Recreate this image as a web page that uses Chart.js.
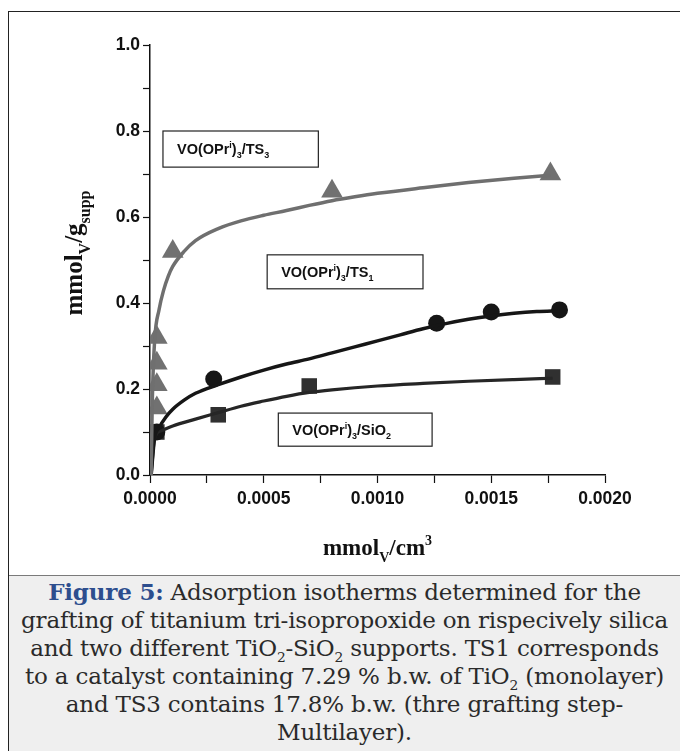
<!DOCTYPE html>
<html>
<head>
<meta charset="utf-8">
<script src="https://cdn.jsdelivr.net/npm/chart.js@4.4.1/dist/chart.umd.min.js"></script>
<style>
  body { margin:0; background:#fff; width:680px; height:751px; overflow:hidden; position:relative; }
  .frame { position:absolute; left:8px; top:11px; width:700px; height:760px; border:1.5px solid #222; box-sizing:border-box; }
  .plot { position:absolute; left:0; top:0; width:680px; height:575px; }
  .caption { position:absolute; left:9px; top:575px; width:680px; height:180px; background:#efefef; border-top:1.5px solid #7a7a7a;
    font-family:"DejaVu Serif", serif; font-size:23px; line-height:28px; color:#2a2a2a; padding-top:2px; box-sizing:border-box; letter-spacing:-0.2px; }
  .caption div { white-space:nowrap; text-align:center; width:671px; }
  .caption b { color:#2d4e8e; }
  .caption sub { font-size:0.6em; line-height:0; }
</style>
</head>
<body>
<div class="frame"></div>
<div class="plot"><canvas id="myChart"></canvas></div>
<div class="caption">
  <div><b>Figure 5:</b> Adsorption isotherms determined for the</div>
  <div>grafting of titanium tri-isopropoxide on rispecively silica</div>
  <div>and two different TiO<sub>2</sub>-SiO<sub>2</sub> supports. TS1 corresponds</div>
  <div>to a catalyst containing 7.29 % b.w. of TiO<sub>2</sub> (monolayer)</div>
  <div>and TS3 contains 17.8% b.w. (thre grafting step-</div>
  <div>Multilayer).</div>
</div>
<script>
// measured points (mmol_V/cm3 , mmol_V/g_supp)
let ts3X = [0.00003, 0.00003, 0.00003, 0.00003, 0.0001, 0.0008, 0.00176];
let ts3Y = [0.32, 0.26, 0.21, 0.156, 0.52, 0.66, 0.70];

let ts1X = [0.00003, 0.00028, 0.00126, 0.0015, 0.0018];
let ts1Y = [0.10, 0.223, 0.353, 0.379, 0.384];

let sioX = [0.00003, 0.0003, 0.0007, 0.00177];
let sioY = [0.10, 0.14, 0.207, 0.228];

// fitted curves
let ts3FitX = [0.000005, 0.00001, 0.00002, 0.00004, 0.00006, 0.00008, 0.0001, 0.00015, 0.0002, 0.0003, 0.0004, 0.0005, 0.0006, 0.0007, 0.0008, 0.0009, 0.001, 0.0012, 0.0014, 0.0016, 0.00176];
let ts3FitY = [0.0, 0.17, 0.31, 0.385, 0.43, 0.462, 0.485, 0.52, 0.545, 0.573, 0.591, 0.604, 0.615, 0.627, 0.638, 0.647, 0.655, 0.668, 0.68, 0.69, 0.697];

let ts1FitX = [0.000005, 0.00002, 0.00004, 0.00007, 0.0001, 0.00015, 0.0002, 0.0003, 0.0004, 0.0005, 0.0006, 0.0007, 0.0008, 0.0009, 0.001, 0.0011, 0.0012, 0.0013, 0.0014, 0.0015, 0.0016, 0.0017, 0.0018];
let ts1FitY = [0.0, 0.085, 0.11, 0.135, 0.153, 0.174, 0.19, 0.21, 0.228, 0.244, 0.258, 0.27, 0.284, 0.298, 0.312, 0.326, 0.34, 0.352, 0.362, 0.37, 0.376, 0.38, 0.382];

let sioFitX = [0.000005, 0.00002, 0.00005, 0.0001, 0.0002, 0.0003, 0.0004, 0.0005, 0.0006, 0.0007, 0.0008, 0.001, 0.0012, 0.0014, 0.0016, 0.00177];
let sioFitY = [0.0, 0.085, 0.103, 0.114, 0.13, 0.145, 0.16, 0.172, 0.183, 0.192, 0.198, 0.207, 0.213, 0.218, 0.222, 0.225];

// label boxes in data units
let notes = [
  { x0:0.000057, x1:0.00074, y0:0.80, y1:0.716, segs:[['VO(OPr'],['i','sup'],[')'],['3','sub'],['/TS'],['3','sub']] },
  { x0:0.000515, x1:0.0012, y0:0.512, y1:0.433, segs:[['VO(OPr'],['i','sup'],[')'],['3','sub'],['/TS'],['1','sub']] },
  { x0:0.000564, x1:0.00124, y0:0.144, y1:0.067, segs:[['VO(OPr'],['i','sup'],[')'],['3','sub'],['/SiO'],['2','sub']] }
];

function pts(xs, ys){
  return xs.map((x, i) => ({x:x, y:ys[i]}));
}

// draws text pieces with sub / superscripts, returns width
function richText(ctx, segs, x, y, size, fam, weight, doDraw){
  let w = 0;
  segs.forEach(s => {
    let small = s[1] ? Math.round(size*0.62) : size;
    ctx.font = weight + ' ' + small + 'px ' + fam;
    let dy = 0;
    if (s[1] == 'sub') dy = size*0.3;
    if (s[1] == 'sup') dy = -size*0.42;
    if (doDraw) ctx.fillText(s[0], x + w, y + dy);
    w += ctx.measureText(s[0]).width;
  });
  return w;
}

let textPlugin = {
  id:'textPlugin',
  afterDraw(chart){
    let ctx = chart.ctx;
    let xs = chart.scales.x, ys = chart.scales.y;
    ctx.save();
    ctx.textBaseline = 'alphabetic';
    ctx.textAlign = 'left';
    ctx.fillStyle = '#111';

    // label boxes
    notes.forEach(n => {
      let l = xs.getPixelForValue(n.x0), r = xs.getPixelForValue(n.x1);
      let t = ys.getPixelForValue(n.y0), b = ys.getPixelForValue(n.y1);
      ctx.fillStyle = '#fff';
      ctx.fillRect(l, t, r-l, b-t);
      ctx.strokeStyle = '#222';
      ctx.lineWidth = 1.2;
      ctx.strokeRect(l, t, r-l, b-t);
      ctx.fillStyle = '#111';
      richText(ctx, n.segs, l + 14, (t+b)/2 + 5, 14.5, '"Liberation Sans", Arial', 'bold', true);
    });

    // x title
    let xt = [['mmol'],['V','sub'],['/cm'],['3','sup']];
    let serif = '"Liberation Serif", "Times New Roman", serif';
    let w = richText(ctx, xt, 0, 0, 23, serif, 'bold', false);
    let cx = (chart.chartArea.left + chart.chartArea.right)/2;
    richText(ctx, xt, cx - w/2, 555, 23, serif, 'bold', true);

    // y title, rotated
    let yt = [['mmol'],['V','sub'],['/g'],['supp','sub']];
    w = richText(ctx, yt, 0, 0, 25, serif, 'bold', false);
    ctx.translate(82, 253);
    ctx.rotate(-Math.PI/2);
    richText(ctx, yt, -w/2, 0, 25, serif, 'bold', true);
    ctx.restore();
  }
};

let tickFont = { family:'"Liberation Sans", Arial', size:17.5, weight:'bold' };

let ctx = document.getElementById('myChart').getContext('2d');
let chart = new Chart(ctx, {
  type:'scatter',
  data:{
    datasets:[
      { label:'TS3 fit', data:pts(ts3FitX, ts3FitY), showLine:true, pointRadius:0, borderColor:'#6f6f6f', borderWidth:3.5, cubicInterpolationMode:'monotone' },
      { label:'TS1 fit', data:pts(ts1FitX, ts1FitY), showLine:true, pointRadius:0, borderColor:'#161616', borderWidth:3.5, cubicInterpolationMode:'monotone' },
      { label:'SiO2 fit', data:pts(sioFitX, sioFitY), showLine:true, pointRadius:0, borderColor:'#262626', borderWidth:3.2, cubicInterpolationMode:'monotone' },
      { label:'VO(OPri)3/TS3', data:pts(ts3X, ts3Y), pointStyle:'triangle', pointRadius:12.5, backgroundColor:'#717171', borderColor:'#717171', borderWidth:0 },
      { label:'VO(OPri)3/TS1', data:pts(ts1X, ts1Y), pointStyle:'circle', pointRadius:8.5, backgroundColor:'#161616', borderColor:'#161616', borderWidth:0 },
      { label:'VO(OPri)3/SiO2', data:pts(sioX, sioY), pointStyle:'rect', pointRadius:11, backgroundColor:'#303030', borderColor:'#303030', borderWidth:0 }
    ]
  },
  options:{
    responsive:true,
    maintainAspectRatio:false,
    devicePixelRatio:1,
    animation:false,
    layout:{ padding:{ top:45, right:75, left:0, bottom:0 } },
    plugins:{ legend:{ display:false }, tooltip:{ enabled:false } },
    scales:{
      x:{
        type:'linear', min:0, max:0.002,
        afterFit(scale){ scale.height = 100; },
        border:{ color:'#111', width:1.5 },
        grid:{ drawOnChartArea:false, tickLength:8, tickColor:'#111', tickWidth:1.2 },
        ticks:{
          stepSize:0.00025, autoSkip:false, maxRotation:0, padding:6, color:'#111', font:tickFont,
          callback:(v, i) => i % 2 == 0 ? v.toFixed(4) : ''
        }
      },
      y:{
        min:0, max:1,
        afterFit(scale){ scale.width = 150; },
        border:{ color:'#111', width:1.5 },
        grid:{ drawOnChartArea:false, tickLength:7, tickColor:'#111', tickWidth:1.2 },
        ticks:{
          stepSize:0.1, autoSkip:false, padding:3, color:'#111', font:tickFont,
          callback:(v, i) => i % 2 == 0 ? v.toFixed(1) : ''
        }
      }
    }
  },
  plugins:[textPlugin]
});
</script>
</body>
</html>
